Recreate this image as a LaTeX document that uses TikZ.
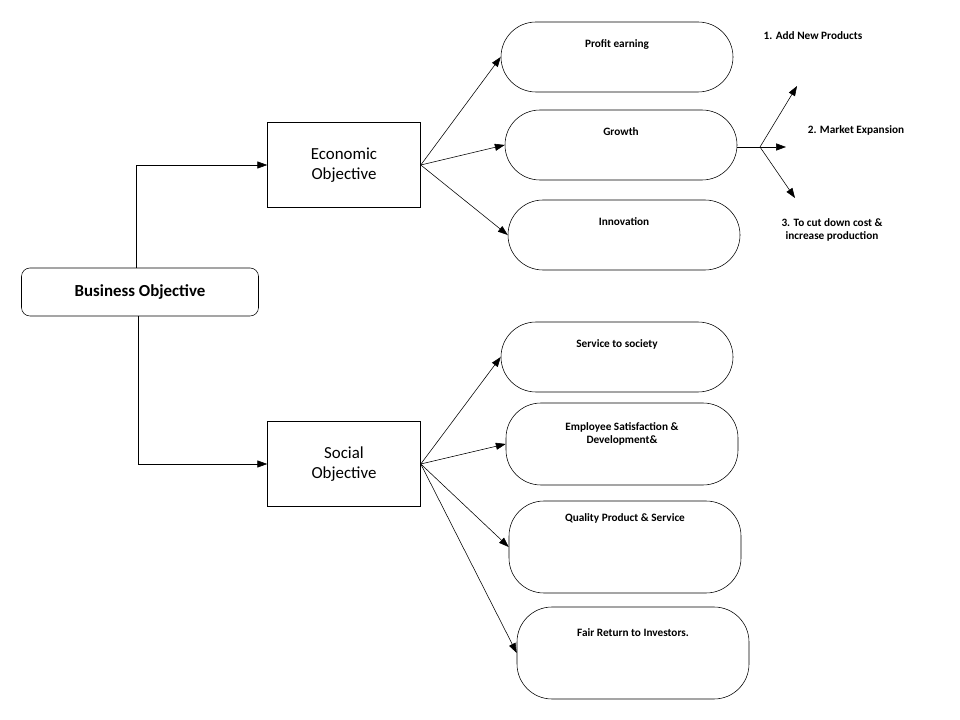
\documentclass[tikz,border=0pt]{standalone}
\usepackage{fontspec}
\setmainfont{Carlito}
\usetikzlibrary{arrows.meta}
\begin{document}
\begin{tikzpicture}[x=0.025cm, y=-0.025cm,
    % Box style
    mainbox/.style={rectangle, draw=black, minimum width=153*0.025cm, minimum height=85*0.025cm, font=\large, align=center},
    % Pill style
    pillbox/.style={rectangle, rounded corners=35*0.025cm, draw=black, minimum width=232*0.025cm, minimum height=70*0.025cm, font=\footnotesize\bfseries, align=center},
    arrow/.style={-{Triangle[length=7pt,width=5pt]}, black},
    note/.style={font=\footnotesize\bfseries, align=left}
]
\useasboundingbox (0,0) rectangle (960,720);

% === Root ===
\node[rectangle, rounded corners=6pt, draw=black, minimum width=237*0.025cm, minimum height=48*0.025cm, font=\large\bfseries] (business) at (140,292) {Business Objective};

% === Second level ===
\node[mainbox] (economic) at (344,165) {Economic\\Objective};
\node[mainbox] (social) at (344,464) {Social\\Objective};

% === Economic leaves ===
\node[pillbox] (profit) at (617,57) {Profit earning\\[1.2em]};
\node[pillbox] (growth) at (621,145) {Growth\\[1.2em]};
\node[pillbox] (innovation) at (624,235) {Innovation\\[1.2em]};

% === Social leaves ===
\node[pillbox] (service) at (617,357) {Service to society\\[1.2em]};
\node[pillbox, minimum height=82*0.025cm] (employee) at (622,444) {Employee Satisfaction \&\\Development\&\\[0.8em]};
\node[pillbox, minimum height=92*0.025cm] (quality) at (625,547) {Quality Product \& Service\\[4em]};
\node[pillbox, minimum height=92*0.025cm] (fair) at (633,653) {Fair Return to Investors.\\[2.5em]};

% === Notes ===
\node[note] (note1) at (813,36) {1. Add New Products};
\node[note] (note2) at (856,130) {2. Market Expansion};
\node[note, align=center] (note3) at (832,230) {3. To cut down cost \&\\increase production};

% === Connectors ===
\draw[arrow] (business.north -| 136,0) |- (economic.west);
\draw[arrow] (business.south -| 138,0) |- (social.west);

\foreach \leaf in {profit, growth, innovation}
    \draw[arrow] (economic.east) -- (\leaf.west);
\foreach \leaf in {service, employee, quality, fair}
    \draw[arrow] (social.east) -- (\leaf.west);

\coordinate (fork) at (760,147);
\draw (growth.east |- fork) -- (fork);
\draw[arrow] (fork) -- (797,86);
\draw[arrow] (fork) -- (786,147);
\draw[arrow] (fork) -- (795,198);

\end{tikzpicture}
\end{document}
